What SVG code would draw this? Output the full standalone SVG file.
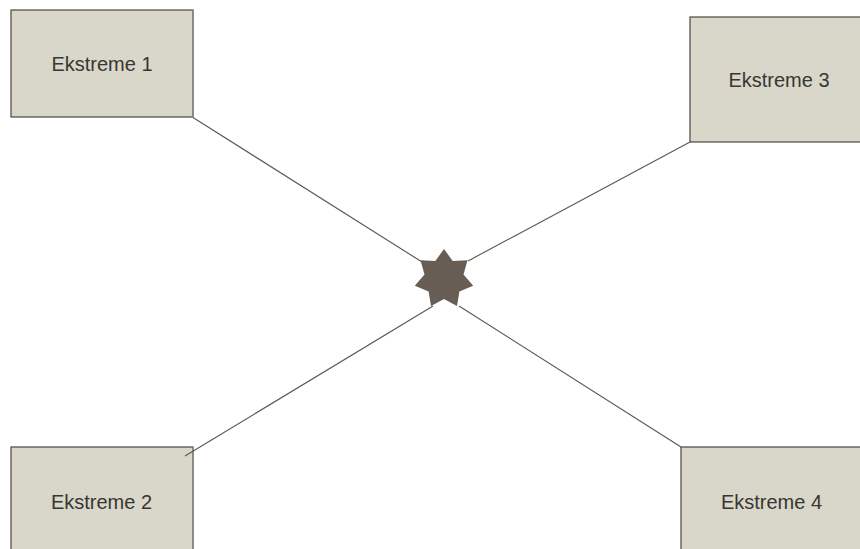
<svg xmlns="http://www.w3.org/2000/svg" width="860" height="549" viewBox="0 0 860 549">
<style>
.box{fill:#d9d6ca;stroke:#4a4640;stroke-width:1.2}
.shade{stroke:#8f8b84;stroke-width:1.5}
.lbl{font-family:"Liberation Sans",Arial,sans-serif;font-size:20px;fill:#383632;text-anchor:middle}
.conn{stroke:#5e554d;stroke-width:1.1;fill:none}
</style>
<rect width="860" height="549" fill="#ffffff"/>
<g id="node1">
<rect class="box" x="11" y="10" width="182" height="107"/>
<line class="shade" x1="193" y1="10" x2="193" y2="117"/>
<text class="lbl" x="102" y="70.5">Ekstreme 1</text>
</g>
<g id="node3">
<rect class="box" x="690" y="17" width="182" height="125"/>
<text class="lbl" x="779" y="87">Ekstreme 3</text>
</g>
<g id="node2">
<rect class="box" x="11" y="447" width="182" height="110"/>
<line class="shade" x1="193" y1="447" x2="193" y2="549"/>
<text class="lbl" x="101.5" y="509">Ekstreme 2</text>
</g>
<g id="node4">
<rect class="box" x="681" y="447" width="182" height="110"/>
<text class="lbl" x="771.5" y="509">Ekstreme 4</text>
</g>
<g id="connectors">
<line class="conn" x1="193" y1="117.5" x2="422" y2="262"/>
<line class="conn" x1="690" y1="142" x2="468" y2="261"/>
<line class="conn" x1="185" y1="456" x2="433" y2="306"/>
<line class="conn" x1="459" y1="306" x2="681" y2="447"/>
</g>
<g id="star">
<polygon fill="#675d54" points="444.0,249.0 452.7,261.0 467.5,260.3 463.5,274.6 473.2,285.7 459.4,291.4 457.0,306.0 444.0,299.0 431.0,306.0 428.6,291.4 414.8,285.7 424.5,274.6 420.5,260.3 435.3,261.0"/>
</g>
</svg>
